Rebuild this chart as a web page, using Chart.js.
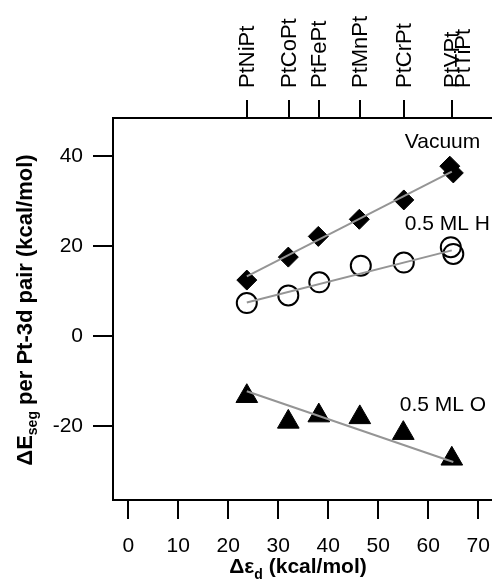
<!DOCTYPE html>
<html>
<head>
<meta charset="utf-8">
<script src="https://cdn.jsdelivr.net/npm/chart.js@4.4.1/dist/chart.umd.min.js"></script>
<style>
  html, body { margin: 0; padding: 0; background: #fff; overflow: hidden; }
  #wrap { width: 530px; height: 579px; }
</style>
</head>
<body>
<div id="wrap"><canvas id="chart" width="530" height="579"></canvas></div>
<script>
// Values
const alloys = ['PtNiPt', 'PtCoPt', 'PtFePt', 'PtMnPt', 'PtCrPt', ['PtVPt', 'PtTiPt']];
const alloyShift = [23.8, 32.1, 38.2, 46.3, 55.2, 64.8];

const xTicks = [0, 10, 20, 30, 40, 50, 60, 70];
const yTicks = [-20, 0, 20, 40];

const vacuumX = [23.7, 32.0, 38.0, 46.2, 55.1, 64.3, 65.0];
const vacuumY = [12.5, 17.6, 22.2, 26.0, 30.3, 37.8, 36.3];

const hydrogenX = [23.7, 32.0, 38.2, 46.5, 55.1, 64.5, 65.0];
const hydrogenY = [7.4, 9.1, 12.0, 15.7, 16.4, 19.8, 18.3];

const oxygenX = [23.7, 32.0, 38.1, 46.3, 55.0, 64.7];
const oxygenY = [-13.3, -19.0, -17.6, -18.0, -21.5, -27.2];

// fitted lines (end points)
const vacuumFitX = [23.7, 64.7];
const vacuumFitY = [13.3, 36.6];
const hydrogenFitX = [23.7, 64.7];
const hydrogenFitY = [7.5, 19.1];
const oxygenFitX = [23.7, 65.0];
const oxygenFitY = [-12.2, -27.9];

const notes = [
  { text: 'Vacuum', x: 55.3, y: 43.1 },
  { text: '0.5 ML H', x: 55.3, y: 25.0 },
  { text: '0.5 ML O', x: 54.3, y: -15.4 }
];

const FONT = "'Liberation Sans', Arial, sans-serif";

function pts(xs, ys) {
  return xs.map((x, i) => ({ x: x, y: ys[i] }));
}

function fitLine(xs, ys) {
  return {
    type: 'line',
    data: pts(xs, ys),
    borderColor: '#959595',
    borderWidth: 2,
    pointRadius: 0,
    showLine: true,
    fill: false,
    order: 0
  };
}

// draw the top labels, axis titles (with subscripts) and the series notes
const extras = {
  id: 'extras',
  afterDraw(chart) {
    const ctx = chart.ctx;
    const xs = chart.scales.x, ys = chart.scales.y, top = chart.scales.x2;
    ctx.save();
    ctx.fillStyle = '#000';
    ctx.textBaseline = 'middle';
    ctx.textAlign = 'left';
    ctx.font = '21px ' + FONT;
    notes.forEach(n => {
      ctx.fillText(n.text, xs.getPixelForValue(n.x), ys.getPixelForValue(n.y));
    });

    // top alloy labels, reading upwards
    ctx.font = '22px ' + FONT;
    alloys.forEach((lab, i) => {
      const px = top.getPixelForValue(alloyShift[i]);
      const lines = Array.isArray(lab) ? lab : [lab];
      lines.forEach((t, j) => {
        ctx.save();
        ctx.translate(px + j * 11, 88);
        ctx.rotate(-Math.PI / 2);
        ctx.fillText(t, 0, 1);
        ctx.restore();
      });
    });

    // x title
    ctx.textBaseline = 'alphabetic';
    const big = 'bold 21px ' + FONT, small = 'bold 14px ' + FONT;
    ctx.font = big;
    const a = 'Δε', c = ' (kcal/mol)';
    const wa = ctx.measureText(a).width, wc = ctx.measureText(c).width;
    ctx.font = small;
    const wb = ctx.measureText('d').width;
    let x0 = 298 - (wa + wb + wc) / 2;
    ctx.font = big;
    ctx.fillText(a, x0, 573);
    ctx.font = small;
    ctx.fillText('d', x0 + wa, 579);
    ctx.font = big;
    ctx.fillText(c, x0 + wa + wb, 573);

    // y title
    ctx.translate(32, 310);
    ctx.rotate(-Math.PI / 2);
    const bigY = 'bold 22px ' + FONT, smallY = 'bold 14px ' + FONT;
    const p1 = 'ΔE', p3 = ' per Pt-3d pair (kcal/mol)';
    ctx.font = bigY;
    const w1 = ctx.measureText(p1).width, w3 = ctx.measureText(p3).width;
    ctx.font = smallY;
    const w2 = ctx.measureText('seg').width;
    let s = -(w1 + w2 + w3) / 2;
    ctx.font = bigY;
    ctx.fillText(p1, s, 0);
    ctx.font = smallY;
    ctx.fillText('seg', s + w1, 5);
    ctx.font = bigY;
    ctx.fillText(p3, s + w1 + w2, 0);
    ctx.restore();
  }
};

const axisGrid = {
  display: true,
  drawOnChartArea: false,
  drawTicks: true,
  color: '#000',
  lineWidth: 2
};

new Chart(document.getElementById('chart').getContext('2d'), {
  type: 'scatter',
  data: {
    datasets: [
      fitLine(vacuumFitX, vacuumFitY),
      fitLine(hydrogenFitX, hydrogenFitY),
      fitLine(oxygenFitX, oxygenFitY),
      {
        label: 'Vacuum',
        data: pts(vacuumX, vacuumY),
        pointStyle: 'rectRot',
        pointRadius: 10,
        backgroundColor: '#000',
        borderColor: '#000',
        borderWidth: 1,
        order: 1
      },
      {
        label: '0.5 ML H',
        data: pts(hydrogenX, hydrogenY),
        pointStyle: 'circle',
        pointRadius: 10,
        backgroundColor: 'rgba(255,255,255,0)',
        borderColor: '#000',
        borderWidth: 2,
        order: 1
      },
      {
        label: '0.5 ML O',
        data: pts(oxygenX, oxygenY),
        pointStyle: 'triangle',
        pointRadius: 12.5,
        backgroundColor: '#000',
        borderColor: '#000',
        borderWidth: 1,
        order: 1
      }
    ]
  },
  options: {
    responsive: false,
    animation: false,
    layout: { padding: 0, autoPadding: false },
    plugins: {
      legend: { display: false },
      tooltip: { enabled: false }
    },
    scales: {
      x: {
        type: 'linear',
        position: 'bottom',
        min: -3.06,
        max: 80.34,
        afterBuildTicks: s => { s.ticks = xTicks.map(v => ({ value: v })); },
        afterFit: s => { s.height = 79; },
        border: { display: true, color: '#000', width: 2 },
        grid: { ...axisGrid, tickLength: 19 },
        ticks: {
          color: '#000',
          padding: 15,
          maxRotation: 0,
          font: { family: FONT, size: 21 }
        }
      },
      x2: {
        type: 'linear',
        position: 'top',
        min: -3.06,
        max: 80.34,
        afterBuildTicks: s => { s.ticks = alloyShift.map(v => ({ value: v })); },
        afterFit: s => { s.height = 118; },
        border: { display: true, color: '#000', width: 2 },
        grid: { ...axisGrid, tickLength: 18 },
        ticks: { display: false }
      },
      y: {
        type: 'linear',
        min: -36.35,
        max: 48.5,
        afterBuildTicks: s => { s.ticks = yTicks.map(v => ({ value: v })); },
        afterFit: s => { s.width = 113; },
        border: { display: true, color: '#000', width: 2 },
        grid: { ...axisGrid, tickLength: 20 },
        ticks: {
          color: '#000',
          padding: 10,
          font: { family: FONT, size: 21 }
        }
      }
    }
  },
  plugins: [extras]
});
</script>
</body>
</html>
